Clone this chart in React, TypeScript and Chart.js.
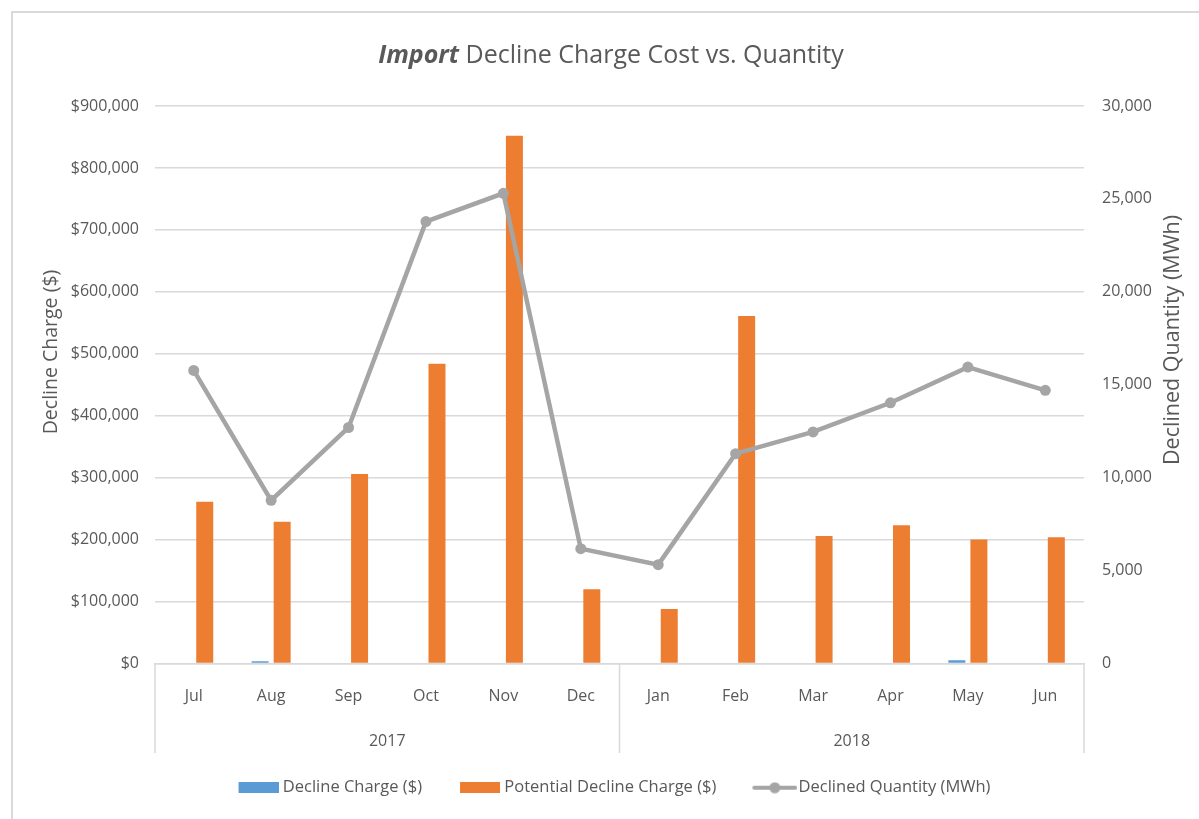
import React, { useEffect, useRef } from 'react';
import { Chart, registerables } from 'chart.js';

Chart.register(...registerables);

// ---- data ----
const months = ['Jul', 'Aug', 'Sep', 'Oct', 'Nov', 'Dec', 'Jan', 'Feb', 'Mar', 'Apr', 'May', 'Jun'];
const yearGroups = ['2017', '2018'];
const groupSizes = [6, 6];
const declineCharge = [0, 3700, 0, 0, 0, 0, 0, 0, 0, 0, 5300, 0];
const potentialDeclineCharge = [261000, 229000, 306000, 484000, 852000, 120000, 88000, 561000, 206000, 223000, 200000, 204000];
const declinedQuantity = [15770, 8780, 12700, 23780, 25300, 6180, 5320, 11290, 12460, 14030, 15950, 14700];

const titleBold = 'Import';
const titleRest = ' Decline Charge Cost vs. Quantity';
const leftAxisTitle = 'Decline Charge ($)';
const rightAxisTitle = 'Declined Quantity (MWh)';
const seriesLabels = ['Decline Charge ($)', 'Potential Decline Charge ($)', 'Declined Quantity (MWh)'];

// ---- style ----
const FONT = '"Open Sans", "DejaVu Sans", sans-serif';
const textColor = '#595959';
const gridColor = '#d9d9d9';
const blue = '#5B9BD5';
const orange = '#ED7D31';
const grey = '#A5A5A5';

// Legend icons: canvas centred at x+18 (pointStyleWidth 36)
function makeBoxIcon(color: string) {
  const c = document.createElement('canvas');
  c.width = 44;
  c.height = 11;
  const g = c.getContext('2d')!;
  g.fillStyle = color;
  g.fillRect(4, 0, 40, 11);
  return c;
}

function makeLineIcon(color: string) {
  const c = document.createElement('canvas');
  c.width = 50;
  c.height = 12;
  const g = c.getContext('2d')!;
  g.strokeStyle = color;
  g.lineWidth = 4;
  g.lineCap = 'round';
  g.beginPath();
  g.moveTo(7, 6);
  g.lineTo(48, 6);
  g.stroke();
  g.fillStyle = color;
  g.beginPath();
  g.arc(27.5, 6, 5.5, 0, Math.PI * 2);
  g.fill();
  return c;
}

const decorPlugin = {
  id: 'decor',
  beforeDraw(chart: any) {
    const ctx = chart.ctx;
    ctx.save();
    ctx.strokeStyle = gridColor;
    ctx.lineWidth = 2;
    ctx.beginPath();
    ctx.moveTo(12, chart.height);
    ctx.lineTo(12, 12);
    ctx.lineTo(chart.width, 12);
    ctx.stroke();
    ctx.restore();
  },
  afterDraw(chart: any) {
    const ctx = chart.ctx;
    const xs = chart.scales.x;
    const area = chart.chartArea;
    ctx.save();
    ctx.fillStyle = textColor;
    ctx.textBaseline = 'middle';

    // Title with mixed styles
    const fB = `italic bold 25px ${FONT}`;
    const fR = `25px ${FONT}`;
    ctx.font = fB;
    const wB = ctx.measureText(titleBold).width;
    ctx.font = fR;
    const wR = ctx.measureText(titleRest).width;
    const sx = 611 - (wB + wR) / 2;
    ctx.textAlign = 'left';
    ctx.font = fB;
    ctx.fillText(titleBold, sx, 56);
    ctx.font = fR;
    ctx.fillText(titleRest, sx + wB, 56);

    // Axis titles (both read bottom-to-top)
    ctx.textAlign = 'center';
    ctx.save();
    ctx.font = `19.5px ${FONT}`;
    ctx.translate(51, 352);
    ctx.rotate(-Math.PI / 2);
    ctx.fillText(leftAxisTitle, 0, 0);
    ctx.restore();
    ctx.save();
    ctx.font = `21.5px ${FONT}`;
    ctx.translate(1173, 340);
    ctx.rotate(-Math.PI / 2);
    ctx.fillText(rightAxisTitle, 0, 0);
    ctx.restore();

    // Year groups and separators
    const half = (xs.getPixelForValue(1) - xs.getPixelForValue(0)) / 2;
    const bounds: number[] = [xs.getPixelForValue(0) - half];
    ctx.font = `16px ${FONT}`;
    let start = 0;
    groupSizes.forEach((n, gi) => {
      const l = xs.getPixelForValue(start) - half;
      const r = xs.getPixelForValue(start + n - 1) + half;
      bounds.push(r);
      ctx.fillText(yearGroups[gi], (l + r) / 2, 741);
      start += n;
    });
    ctx.strokeStyle = gridColor;
    ctx.lineWidth = 1.5;
    bounds.forEach((b) => {
      ctx.beginPath();
      ctx.moveTo(b, area.bottom);
      ctx.lineTo(b, 753);
      ctx.stroke();
    });
    ctx.restore();
  },
};

export default function App() {
  const ref = useRef<HTMLCanvasElement | null>(null);

  useEffect(() => {
    document.body.style.margin = '0';
    const canvas = ref.current!;
    const icons = [makeBoxIcon(blue), makeBoxIcon(orange), makeLineIcon(grey)];

    const chart = new Chart(canvas, {
      type: 'bar',
      data: {
        labels: months,
        datasets: [
          {
            type: 'bar',
            label: seriesLabels[0],
            data: declineCharge,
            backgroundColor: blue,
            yAxisID: 'y',
            order: 2,
            categoryPercentage: 0.57,
            barPercentage: 0.77,
          },
          {
            type: 'bar',
            label: seriesLabels[1],
            data: potentialDeclineCharge,
            backgroundColor: orange,
            yAxisID: 'y',
            order: 2,
            categoryPercentage: 0.57,
            barPercentage: 0.77,
          },
          {
            type: 'line',
            label: seriesLabels[2],
            data: declinedQuantity,
            borderColor: grey,
            backgroundColor: grey,
            borderWidth: 4.5,
            pointRadius: 5.5,
            pointBackgroundColor: grey,
            pointBorderWidth: 0,
            tension: 0,
            yAxisID: 'y1',
            order: 1,
          },
        ] as any,
      },
      options: {
        responsive: false,
        animation: false,
        devicePixelRatio: 1,
        events: [],
        layout: { padding: { top: 106, left: 30, right: 0, bottom: 13 } },
        plugins: {
          title: { display: false },
          tooltip: { enabled: false },
          legend: {
            position: 'bottom',
            labels: {
              usePointStyle: true,
              pointStyleWidth: 36,
              boxHeight: 11,
              padding: 38,
              color: textColor,
              font: { family: FONT, size: 16.5 },
              generateLabels: (c: any) =>
                c.data.datasets.map((ds: any, i: number) => ({
                  text: ds.label,
                  pointStyle: icons[i],
                  datasetIndex: i,
                  hidden: false,
                  fillStyle: ds.backgroundColor,
                  strokeStyle: ds.backgroundColor,
                  lineWidth: 0,
                  fontColor: textColor,
                })),
            },
          },
        },
        scales: {
          x: {
            type: 'category',
            offset: true,
            grid: { display: false, drawTicks: false },
            border: { display: true, color: gridColor, width: 1.5 },
            ticks: {
              color: textColor,
              font: { family: FONT, size: 16 },
              padding: 23,
              maxRotation: 0,
              autoSkip: false,
            },
            afterFit: (s: any) => {
              s.height = 78;
            },
          },
          y: {
            position: 'left',
            min: 0,
            max: 900000,
            grid: { color: gridColor, lineWidth: 1.5, drawTicks: false },
            border: { display: false },
            ticks: {
              stepSize: 100000,
              color: textColor,
              font: { family: FONT, size: 16 },
              padding: 16,
              callback: (v: any) => '$' + Number(v).toLocaleString('en-US'),
            },
            afterFit: (s: any) => {
              s.width = 125;
            },
          },
          y1: {
            position: 'right',
            min: 0,
            max: 30000,
            grid: { display: false, drawTicks: false },
            border: { display: false },
            ticks: {
              stepSize: 5000,
              color: textColor,
              font: { family: FONT, size: 16 },
              padding: 18,
              callback: (v: any) => Number(v).toLocaleString('en-US'),
            },
            afterFit: (s: any) => {
              s.width = 115;
            },
          },
        },
      } as any,
      plugins: [decorPlugin],
    });
    return () => chart.destroy();
  }, []);

  return (
    <div style={{ width: 1199, height: 819, background: '#ffffff' }}>
      <canvas ref={ref} width={1199} height={819} style={{ display: 'block', width: 1199, height: 819 }} />
    </div>
  );
}
